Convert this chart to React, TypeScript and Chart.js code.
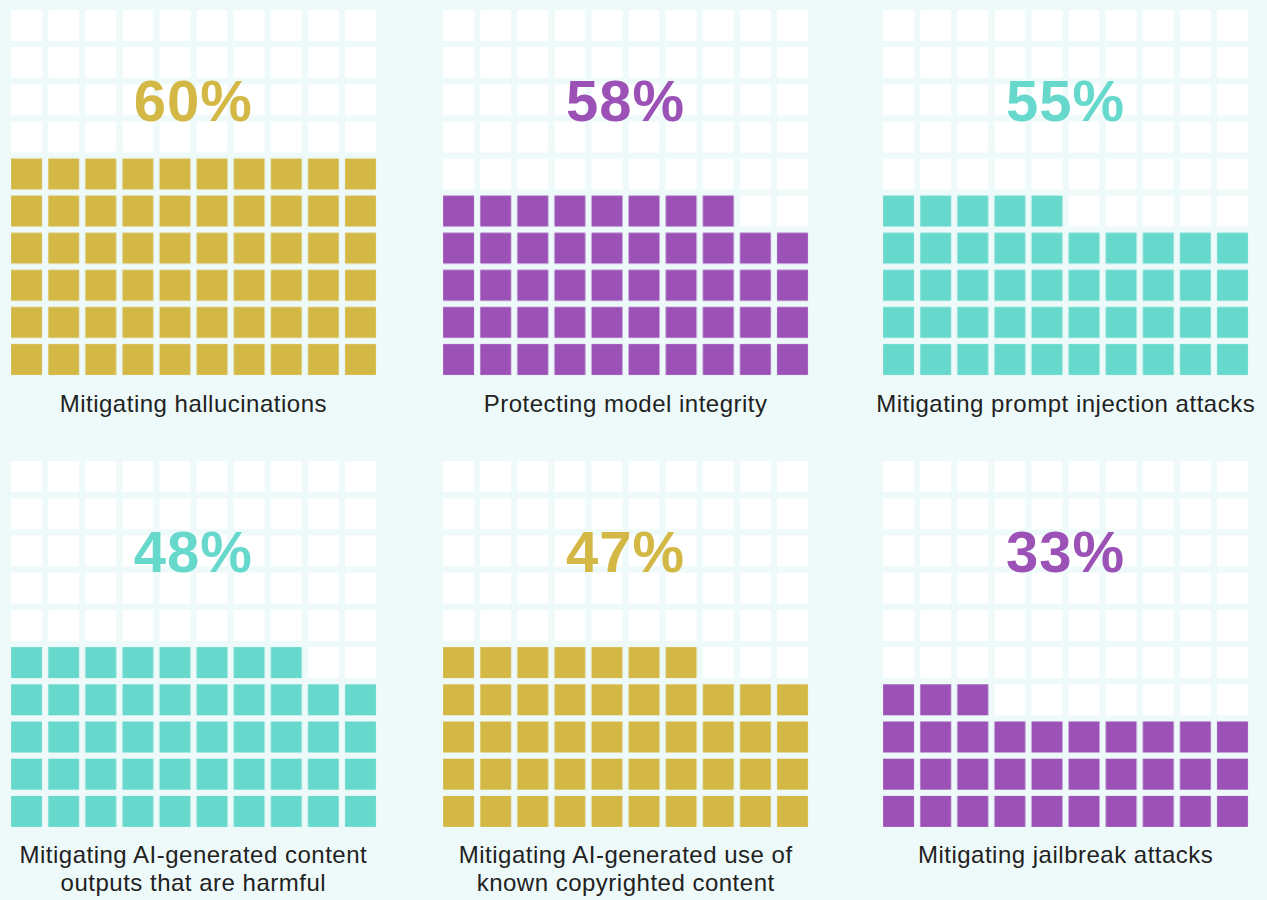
import React, { useEffect, useRef } from "react";
import { Chart, registerables } from "chart.js";

Chart.register(...registerables);

// ---- data ----
const categories: string[][] = [
  ["Mitigating hallucinations"],
  ["Protecting model integrity"],
  ["Mitigating prompt injection attacks"],
  ["Mitigating AI-generated content", "outputs that are harmful"],
  ["Mitigating AI-generated use of", "known copyrighted content"],
  ["Mitigating jailbreak attacks"],
];
const percentLabels = [60, 58, 55, 48, 47, 33];
// number of squares actually filled in the reference picture
const filledCells = [60, 48, 45, 48, 47, 33];
const panelColors = ["#d4b846", "#9b51b5", "#66d8cc", "#66d8cc", "#d4b846", "#9b51b5"];

const GRID = 10;
const BG = "#eefafa";

// layout
const colLefts = [7.6, 439.9, 879.9];
const rowTops = [6.9, 458.4];
const CANVAS = 371.5;
const CELL = 31;

function Waffle({ filled, color }: { filled: number; color: string }) {
  const ref = useRef<HTMLCanvasElement | null>(null);
  useEffect(() => {
    if (!ref.current) return;
    const on: { x: number; y: number }[] = [];
    const off: { x: number; y: number }[] = [];
    for (let i = 0; i < GRID * GRID; i++) {
      const p = { x: i % GRID, y: Math.floor(i / GRID) };
      (i < filled ? on : off).push(p);
    }
    const radius = CELL / Math.SQRT2;
    const chart = new Chart(ref.current, {
      type: "scatter",
      data: {
        datasets: [
          {
            data: off,
            pointStyle: "rect",
            pointRadius: radius,
            pointHoverRadius: radius,
            backgroundColor: "#ffffff",
            borderWidth: 0,
          },
          {
            data: on,
            pointStyle: "rect",
            pointRadius: radius,
            pointHoverRadius: radius,
            backgroundColor: color,
            borderWidth: 0,
          },
        ],
      },
      options: {
        animation: false,
        responsive: false,
        maintainAspectRatio: false,
        events: [],
        layout: { padding: 0, autoPadding: false },
        plugins: { legend: { display: false }, tooltip: { enabled: false } },
        scales: {
          x: { type: "linear", min: -0.5, max: GRID - 0.5, display: false },
          y: { type: "linear", min: -0.5, max: GRID - 0.5, display: false },
        },
      },
    });
    return () => chart.destroy();
  }, [filled, color]);
  return (
    <canvas
      ref={ref}
      width={Math.round(CANVAS)}
      height={Math.round(CANVAS)}
      style={{ width: CANVAS, height: CANVAS, display: "block" }}
    />
  );
}

export default function App() {
  return (
    <div
      style={{
        position: "absolute",
        left: 0,
        top: 0,
        width: 1267,
        height: 900,
        background: BG,
        overflow: "hidden",
        fontFamily: "'Liberation Sans', Arial, sans-serif",
      }}
    >
      {categories.map((lines, i) => {
        const left = colLefts[i % 3];
        const top = rowTops[Math.floor(i / 3)];
        return (
          <div key={i} style={{ position: "absolute", left, top, width: CANVAS }}>
            <Waffle filled={filledCells[i]} color={panelColors[i]} />
            <div
              style={{
                position: "absolute",
                left: 0,
                top: 94,
                width: CANVAS,
                textAlign: "center",
                fontWeight: 700,
                fontSize: 58,
                letterSpacing: 1,
                lineHeight: "0px",
                color: panelColors[i],
              }}
            >
              {percentLabels[i]}%
            </div>
            <div
              style={{
                position: "absolute",
                left: -50,
                top: 383,
                width: CANVAS + 100,
                textAlign: "center",
                fontSize: 24,
                letterSpacing: 0.5,
                lineHeight: "28px",
                color: "#222222",
              }}
            >
              {lines.map((l, j) => (
                <div key={j}>{l}</div>
              ))}
            </div>
          </div>
        );
      })}
    </div>
  );
}
